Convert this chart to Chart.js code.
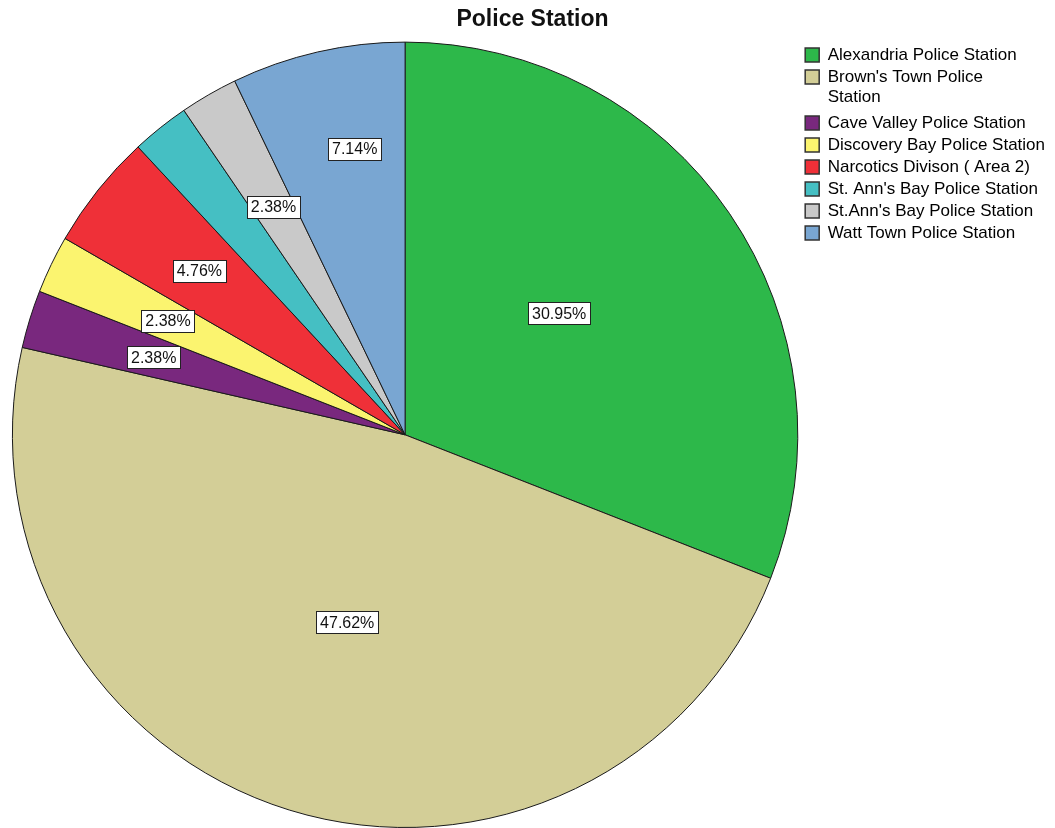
<!DOCTYPE html>
<html>
<head>
<meta charset="utf-8">
<script src="https://cdn.jsdelivr.net/npm/chart.js@4.4.1/dist/chart.umd.min.js"></script>
<style>
  html, body { margin: 0; padding: 0; background: #fff; }
  #wrap { position: relative; width: 1055px; height: 828px; }
</style>
</head>
<body>
<div id="wrap"><canvas id="c" width="1055" height="828"></canvas></div>
<script>
const categories = [
  "Alexandria Police Station",
  ["Brown's Town Police", "Station"],
  "Cave Valley Police Station",
  "Discovery Bay Police Station",
  "Narcotics Divison ( Area 2)",
  "St. Ann's Bay Police Station",
  "St.Ann's Bay Police Station",
  "Watt Town Police Station"
];
const counts = [13, 20, 1, 1, 2, 1, 1, 3];
const showLabel = [true, true, true, true, true, false, true, true];
const colors = ["#2db84a", "#d3ce97", "#79287e", "#fbf46f", "#ef3038", "#45bfc3", "#c9c9c9", "#79a6d2"];

const total = counts.reduce((a, b) => a + b, 0);
const pctLabels = counts.map(v => (v / total * 100).toFixed(2) + "%");

const labelPlugin = {
  id: 'sliceLabels',
  afterDatasetsDraw(chart) {
    const ctx = chart.ctx;
    const meta = chart.getDatasetMeta(0);
    ctx.save();
    ctx.font = '16px "Liberation Sans", Arial, sans-serif';
    ctx.textAlign = 'center';
    ctx.textBaseline = 'middle';
    meta.data.forEach((arc, i) => {
      if (!showLabel[i]) return;
      const p = counts[i] / total * 100;
      const f = p < 5 ? 0.67 : (p < 10 ? 0.74 : 0.5);
      const mid = (arc.startAngle + arc.endAngle) / 2 - (p > 25 && p < 40 ? 0.07 : 0) + (p > 5 && p < 10 ? 0.05 : 0);
      const x = arc.x + Math.cos(mid) * arc.outerRadius * f;
      const y = arc.y + Math.sin(mid) * arc.outerRadius * f;
      const t = pctLabels[i];
      const w = ctx.measureText(t).width + 8;
      const h = 22;
      const bx = Math.round(x - w / 2) + 0.5, by = Math.round(y - h / 2) + 0.5;
      ctx.fillStyle = '#fff';
      ctx.fillRect(bx, by, Math.round(w), h);
      ctx.strokeStyle = '#222';
      ctx.lineWidth = 1;
      ctx.strokeRect(bx, by, Math.round(w), h);
      ctx.fillStyle = '#111';
      ctx.fillText(t, x, y + 1);
    });
    ctx.restore();
  }
};

new Chart(document.getElementById('c'), {
  type: 'pie',
  data: {
    labels: categories,
    datasets: [{
      data: counts,
      backgroundColor: colors,
      borderColor: '#1a1a1a',
      borderWidth: 1
    }]
  },
  options: {
    responsive: false,
    animation: false,
    layout: { padding: { left: 10, right: 0, top: 0, bottom: 0 } },
    plugins: {
      title: {
        display: true,
        text: 'Police Station',
        color: '#111',
        font: { family: '"Liberation Sans", Arial, sans-serif', size: 23, weight: 'bold' },
        padding: { top: 6, bottom: 8 }
      },
      legend: {
        position: 'right',
        align: 'start',
        fullSize: false,
        labels: {
          color: '#111',
          font: { family: '"Liberation Sans", Arial, sans-serif', size: 17 },
          boxWidth: 14,
          boxHeight: 14,
          padding: 5,
          generateLabels(chart) {
            return categories.map((t, i) => ({
              text: t,
              fillStyle: colors[i],
              strokeStyle: '#333',
              lineWidth: 1.5,
              hidden: false,
              index: i
            }));
          }
        }
      },
      tooltip: { enabled: false }
    }
  },
  plugins: [labelPlugin]
});
</script>
</body>
</html>
